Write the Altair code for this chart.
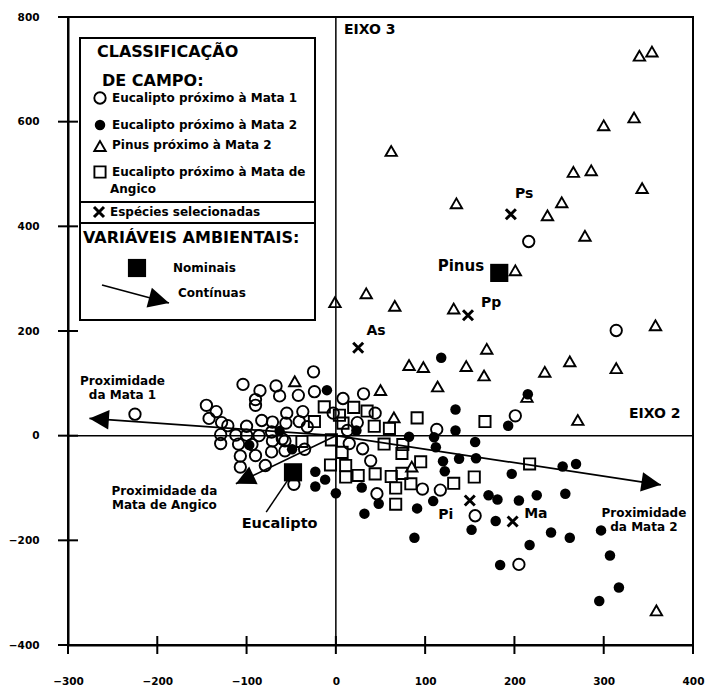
import math

import altair as alt
import pandas as pd

FONT = "DejaVu Sans"
W, H = 625, 628
X_DOMAIN = [-300, 400]
Y_DOMAIN = [-400, 800]
X_TICKS = [-300, -200, -100, 0, 100, 200, 300, 400]
Y_TICKS = [-400, -200, 0, 200, 400, 600, 800]

# ---- site scores (eixo 2 = x, eixo 3 = y) ----
# Eucalipto próximo à Mata 1
mata1_x = [-225, -145, -134, -142, -128, -121, -129, -129, -104, -85, -67, -63, -42, -24, -25,
           -90, -90, -55, -37, -100, -83, -71, -56, -41, -32, -112, -109, -94, -71, -57,
           -90, -72, -57, -107, -107, -79, -35, -47, 8, 31, 13, 30, 39, 44, -3,
           15, 24, 113, 46, 97, 117, 156, 201, 216, 314, 205, -86, -60, -72, -100]
mata1_y = [41, 58, 46, 33, 25, 19, 2, -15, 98, 86, 95, 76, 77, 84, 122,
           58, 69, 43, 46, 18, 29, 26, 24, 27, 17, 1, -16, -17, -10, -10,
           -38, -31, -29, -39, -60, -57, -26, -93, 71, 80, 10, -25, -48, 43, 43,
           -15, 25, 12, -111, -102, -104, -153, 38, 371, 201, -246, 0, -6, 7, 1]

# Eucalipto próximo à Mata 2
mata2_x = [-10, -97, -63, -49, -23, -12, -23, 0, 23, 32, 29, 48, 91, 109, 88,
           118, 134, 134, 82, 110, 112, 120, 138, 122, 156, 157, 193, 215, 254, 269,
           197, 171, 181, 205, 225, 257, 179, 152, 241, 262, 297, 217, 307, 184, 317, 295]
mata2_y = [87, -18, 9, -26, -69, -84, -97, -110, 10, -149, -99, -130, -139, -125, -195,
           149, 50, 10, -2, -3, -22, -49, -44, -68, -12, -43, 19, 79, -59, -54,
           -73, -114, -122, -124, -114, -111, -163, -180, -185, -195, -181, -209, -229, -247, -290, -316]

# Pinus próximo à Mata 2
pinus_x = [340, 354, 334, 300, 62, 266, 286, 343, 135, 253, 237, 279, 201, 34, 66,
           132, -1, 358, 169, 82, 98, 146, 114, 50, 65, 166, 234, 262, 314, 214,
           271, 85, 359, -46]
pinus_y = [726, 734, 608, 593, 544, 504, 507, 473, 444, 446, 421, 382, 316, 272, 248,
           243, 255, 211, 166, 135, 131, 133, 94, 87, 35, 115, 122, 142, 129, 74,
           30, -59, -334, 104]

# Eucalipto próximo à Mata de Angico
angico_x = [-13, 20, 35, 43, -24, 8, -5, 7, -6, 11, 25, -38, 4, 60, 91,
            167, 217, 155, 95, 74, 62, 44, 11, 67, 84, 67, 54, 75, 132, 74]
angico_y = [55, 54, 47, 18, 27, 24, -8, -32, -56, -57, -76, -11, 39, 14, 34,
            27, -54, -79, -50, -34, -78, -73, -79, -100, -92, -131, -16, -17, -91, -72]

# Espécies selecionadas
species_names = ["Ps", "Pp", "As", "Pi", "Ma"]
species_x = [196, 148, 25, 150, 198]
species_y = [423, 230, 168, -124, -164]
species_label_x = [211, 174, 45, 123, 224]
species_label_y = [461, 253, 200, -151, -149]

# Variáveis ambientais nominais
nominal_names = ["Pinus", "Eucalipto"]
nominal_x = [183, -48]
nominal_y = [311, -70]

# Variáveis ambientais contínuas (vetores a partir da origem)
arrow_names = ["Proximidade\nda Mata 1", "Proximidade\nda Mata 2", "Proximidade da\nMata de Angico"]
arrow_x = [-276, 364, -112]
arrow_y = [33, -94, -92]
arrow_label_x = [-239, 345, -192]
arrow_label_y = [105, -148, -105]

# ---- scales and axes ----
xsc = alt.Scale(domain=X_DOMAIN, nice=False, zero=False)
ysc = alt.Scale(domain=Y_DOMAIN, nice=False, zero=False)
axis_common = dict(title=None, ticks=False, grid=False, labelFont=FONT, labelFontWeight="bold",
                   labelFontSize=10.5, labelColor="black", labelOverlap=False,
                   domainColor="black", domainWidth=2)
x_axis = alt.Axis(values=X_TICKS, labelPadding=31, labelFlush=False, **axis_common)
y_axis = alt.Axis(values=Y_TICKS, labelPadding=29, **axis_common)


def X(field="x"):
    return alt.X(f"{field}:Q", scale=xsc, axis=x_axis)


def Y(field="y"):
    return alt.Y(f"{field}:Q", scale=ysc, axis=y_axis)


def xy(xs, ys, **extra):
    d = {"x": xs, "y": ys}
    d.update(extra)
    return pd.DataFrame(d)


# arrowhead: apex at the origin of the symbol, pointing up before rotation
HEAD = "M0,0L1,2L-1,2Z"
# species symbol: bold X
STAR_X = "M-1,-1L1,1M1,-1L-1,1"

px_per_x = W / (X_DOMAIN[1] - X_DOMAIN[0])
px_per_y = H / (Y_DOMAIN[1] - Y_DOMAIN[0])


def heading(dx, dy):
    return math.degrees(math.atan2(dx * px_per_x, dy * px_per_y)) % 360


layers = []

# axes through the origin
layers.append(alt.Chart(pd.DataFrame({"x": [0]})).mark_rule(color="black", strokeWidth=1.5).encode(x=X()))
layers.append(alt.Chart(pd.DataFrame({"y": [0]})).mark_rule(color="black", strokeWidth=1.5).encode(y=Y()))

# crossing tick marks on the frame
layers.append(
    alt.Chart(xy(X_TICKS, [Y_DOMAIN[0]] * len(X_TICKS)))
    .mark_tick(orient="vertical", color="black", size=18, thickness=2, opacity=1)
    .encode(x=X(), y=Y())
)
layers.append(
    alt.Chart(xy([X_DOMAIN[0]] * len(Y_TICKS), Y_TICKS))
    .mark_tick(orient="horizontal", color="black", size=20, thickness=2, opacity=1)
    .encode(x=X(), y=Y())
)

# environmental vectors
arrows = pd.DataFrame({"name": arrow_names, "x": [0] * 3, "y": [0] * 3,
                       "x2": arrow_x, "y2": arrow_y})
arrows["ang"] = [heading(a, b) for a, b in zip(arrow_x, arrow_y)]
layers.append(
    alt.Chart(arrows).mark_rule(color="black", strokeWidth=1.7)
    .encode(x=X(), y=Y(), x2="x2:Q", y2="y2:Q")
)

# Eucalipto label leader
layers.append(
    alt.Chart(pd.DataFrame({"x": [nominal_x[1]], "y": [nominal_y[1]], "x2": [-78], "y2": [-146]}))
    .mark_rule(color="black", strokeWidth=1.5)
    .encode(x=X(), y=Y(), x2="x2:Q", y2="y2:Q")
)

# sites
layers.append(
    alt.Chart(xy(mata1_x, mata1_y)).mark_point(shape="circle", filled=False, color="black",
                                               strokeWidth=1.9, size=130, opacity=1)
    .encode(x=X(), y=Y())
)
layers.append(
    alt.Chart(xy(angico_x, angico_y)).mark_point(shape="square", filled=False, color="black",
                                                 strokeWidth=1.9, size=125, opacity=1)
    .encode(x=X(), y=Y())
)
layers.append(
    alt.Chart(xy(pinus_x, pinus_y)).mark_point(shape="triangle-up", filled=False, color="black",
                                               strokeWidth=1.9, size=130, opacity=1)
    .encode(x=X(), y=Y())
)
layers.append(
    alt.Chart(xy(mata2_x, mata2_y)).mark_point(shape="circle", filled=True, color="black",
                                               size=110, opacity=1)
    .encode(x=X(), y=Y())
)

# arrowheads
layers.append(
    alt.Chart(arrows).mark_point(shape=HEAD, filled=True, color="black", size=380, opacity=1)
    .encode(x=X("x2"), y=Y("y2"), angle=alt.Angle("ang:Q", scale=None))
)

# nominal variables
layers.append(
    alt.Chart(xy(nominal_x, nominal_y)).mark_point(shape="square", filled=True, color="black",
                                                   size=330, opacity=1)
    .encode(x=X(), y=Y())
)

# selected species
layers.append(
    alt.Chart(xy(species_x, species_y)).mark_point(shape=STAR_X, filled=False, color="black",
                                                   strokeWidth=3, size=100, opacity=1)
    .encode(x=X(), y=Y())
)


def text_layer(df, size, align="center"):
    return (
        alt.Chart(df)
        .mark_text(font=FONT, fontWeight="bold", fontSize=size, color="black", align=align,
                   baseline="middle", lineBreak="\n")
        .encode(x=X(), y=Y(), text="t:N")
    )


layers.append(text_layer(xy(species_label_x, species_label_y, t=species_names), 14))
layers.append(text_layer(xy(arrow_label_x, arrow_label_y, t=arrow_names), 12))
layers.append(text_layer(xy([166], [324], t=["Pinus"]), 15, align="right"))
layers.append(text_layer(xy([-63], [-168], t=["Eucalipto"]), 14.5))
layers.append(text_layer(xy([9], [776], t=["EIXO 3"]), 14, align="left"))
layers.append(text_layer(xy([386], [41], t=["EIXO 2"]), 14, align="right"))

# ---- legend panel (pixel layout inside the plot area) ----
BOX_L, BOX_R, BOX_T, BOX_B = 12, 247, 21, 303
layers.append(
    alt.Chart(pd.DataFrame({"k": [0]})).mark_rect(fill="white", stroke="black", strokeWidth=2)
    .encode(x=alt.value(BOX_L), x2=alt.value(BOX_R), y=alt.value(BOX_T), y2=alt.value(BOX_B))
)
for yy in (185, 206):
    layers.append(
        alt.Chart(pd.DataFrame({"k": [0]})).mark_rule(color="black", strokeWidth=2)
        .encode(x=alt.value(BOX_L), x2=alt.value(BOX_R), y=alt.value(yy))
    )


def leg_text(txt, x, y, size=12):
    return (
        alt.Chart(pd.DataFrame({"k": [0]}))
        .mark_text(font=FONT, fontWeight="bold", fontSize=size, color="black", align="left",
                   baseline="middle")
        .encode(x=alt.value(x), y=alt.value(y), text=alt.value(txt))
    )


def leg_symbol(x, y, **mark):
    base = dict(color="black", opacity=1)
    base.update(mark)
    return alt.Chart(pd.DataFrame({"k": [0]})).mark_point(**base).encode(
        x=alt.value(x), y=alt.value(y))


layers += [
    leg_text("CLASSIFICAÇÃO", 29, 35, 16),
    leg_text("DE CAMPO:", 34, 64, 16),
    leg_symbol(32, 81, shape="circle", filled=False, strokeWidth=1.9, size=130),
    leg_text("Eucalipto próximo à Mata 1", 44, 81),
    leg_symbol(32, 108, shape="circle", filled=True, size=110),
    leg_text("Eucalipto próximo à Mata 2", 44, 108),
    leg_symbol(32, 129, shape="triangle-up", filled=False, strokeWidth=1.9, size=130),
    leg_text("Pinus próximo à Mata 2", 44, 128),
    leg_symbol(32, 155, shape="square", filled=False, strokeWidth=1.9, size=125),
    leg_text("Eucalipto próximo à Mata de", 44, 155),
    leg_text("Angico", 42, 172),
    leg_symbol(31, 195, shape=STAR_X, filled=False, strokeWidth=3, size=100),
    leg_text("Espécies selecionadas", 42, 195),
    leg_text("VARIÁVEIS AMBIENTAIS:", 15, 221, 16),
    leg_symbol(69, 251, shape="square", filled=True, size=330),
    leg_text("Nominais", 105, 251),
    alt.Chart(pd.DataFrame({"k": [0]})).mark_rule(color="black", strokeWidth=1.7).encode(
        x=alt.value(34), y=alt.value(268), x2=alt.value(101), y2=alt.value(286)),
    leg_symbol(101, 286, shape=HEAD, filled=True, size=420,
               angle=math.degrees(math.atan2(67, -18)) % 360),
    leg_text("Contínuas", 110, 276),
]

chart = (
    alt.layer(*layers)
    .properties(
        width=W,
        height=H,
        autosize=alt.AutoSizeParams(type="none"),
        padding={"left": 68, "top": 17, "right": 18, "bottom": 47},
    )
    .configure_view(stroke="black", strokeWidth=2)
)

chart.save("out.html", embed_options={"renderer": "svg", "actions": False})
